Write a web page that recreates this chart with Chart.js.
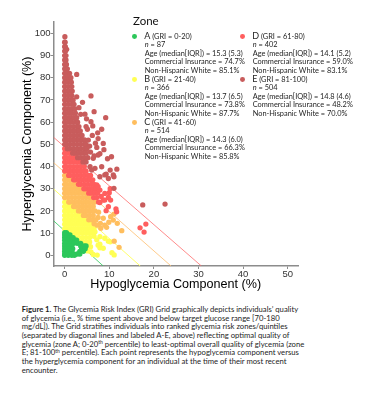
<!DOCTYPE html>
<html><head><meta charset="utf-8">
<script src="https://cdn.jsdelivr.net/npm/chart.js@4.4.1/dist/chart.umd.min.js"></script>
<style>
html,body{margin:0;padding:0;background:#fff;overflow:hidden;}
#wrap{position:relative;width:383px;height:397px;overflow:hidden;background:#fff;}
#c{position:absolute;left:0;top:0;}
.t{position:absolute;font-family:Lato,sans-serif;color:#1e1e1e;white-space:nowrap;height:8.6px;line-height:8.6px;font-size:7.4px;}
.hd .big{font-size:9px;}
.dot{position:absolute;width:4.8px;height:4.8px;border-radius:50%;}
#zoneTitle{position:absolute;left:133px;top:13px;font-family:Lato,sans-serif;font-size:11.5px;line-height:16px;color:#111;}
#caption{position:absolute;left:21.7px;top:304.9px;font-family:Lato,sans-serif;font-size:7.7px;line-height:8.7px;color:#1e1e1e;white-space:nowrap;}
#caption sup{font-size:5px;line-height:0;vertical-align:0;position:relative;top:-2.6px;}
</style></head>
<body><div id="wrap"><canvas id="c" width="383" height="298"></canvas><div id="zoneTitle">Zone</div><div id="legend"></div><div id="caption"></div></div>
<script>
// ---- data ----
const zoneLetters = ['A','B','C','D','E'];
const zoneRanges = ['0-20','21-40','41-60','61-80','81-100'];
const zoneN = [87,366,514,402,504];
const zoneAge = ['15.3 (5.3)','13.7 (6.5)','14.3 (6.0)','14.1 (5.2)','14.8 (4.6)'];
const zoneInsurance = ['74.7%','73.8%','66.3%','59.0%','48.2%'];
const zoneNHW = ['85.1%','87.7%','85.8%','83.1%','70.0%'];
const xTicks = [0,10,20,30,40,50];
const yTicks = [0,10,20,30,40,50,60,70,80,90,100];
const xTitle = 'Hypoglycemia Component (%)';
const yTitle = 'Hyperglycemia Component (%)';

// [hypoglycemia, hyperglycemia] per individual
const zoneA = [
[0,10.2],[0.4,10.2],[0,9.2],[0.8,9.2],[1.2,9.2],[0,8],[0.4,8],[1.2,8],[1.9,8],
[0,6.8],[0.8,6.8],[1.6,6.8],[2.4,6.8],[2.7,6.8],[0,5.4],[0.4,5.4],[1.2,5.4],[2.0,5.4],[2.8,5.4],[3.6,5.4],
[0,4.2],[0.8,4.2],[1.6,4.2],[3.6,4.2],[4.4,4.2],[4.8,4.2],[0,3.0],[0.4,3.0],[1.2,3.0],[1.8,3.0],[3.8,3.0],[4.6,3.0],
[0,1.8],[0.8,1.8],[1.6,1.8],[3.4,1.8],[4.2,1.8],[0,0.6],[0.4,0.6],[1.2,0.6],[2.0,0.6],[2.8,0.6],[3.4,0.6],
[0,0],[0.8,0],[1.6,0],[2.2,0]
];
const zoneB = [
[0,24],[0.5,24],[0,22],[0.8,22],[1.5,22],[0,20],[0.4,20],[1.2,20],[2.0,20],[2.6,20],
[0,18],[0.8,18],[1.6,18],[2.4,18],[3.2,18],[3.7,18],
[0,16],[0.4,16],[1.2,16],[2.0,16],[2.8,16],[3.6,16],[4.4,16],[4.9,16],
[0,14],[0.8,14],[1.6,14],[2.4,14],[3.2,14],[4.0,14],[4.8,14],[5.6,14],[6.0,14],
[0,12],[0.4,12],[1.2,12],[2.0,12],[2.8,12],[3.6,12],[4.4,12],[5.2,12],[6.0,12],[6.6,12],
[0.8,10],[1.6,10],[2.4,10],[3.2,10],[4.0,10],[4.8,10],[5.6,10],[6.2,10],
[1.6,8],[2.4,8],[3.2,8],[4.0,8],[4.8,8],[5.6,8],[2.4,6],[3.2,6],[4.0,6],[4.8,6],[5.6,6],
[4.0,4],[4.8,4],[5.4,4],[5.1,2],
[5.8,3.9],[6.4,0.4],[7.3,0.1],[7.9,5.0],[7.9,3.4],[9.8,6.4],[10.6,1.2],[11.1,0.2],[6.8,10.6],
[7.9,8.4],[9.0,7.7],[10.2,6.1],[7.5,4.6],[8.65,3.2],[7.2,7.0],[6.6,8.6],[5.9,1.6]
];
const zoneC = [
[0,36],[0.5,36],[0,34],[0.8,34],[1.5,34],[0,32],[0.4,32],[1.2,32],[2.0,32],[2.6,32],
[0,30],[0.8,30],[1.6,30],[2.4,30],[3.2,30],[3.8,30],
[0,28],[0.4,28],[1.2,28],[2.0,28],[2.8,28],[3.6,28],[4.4,28],[4.9,28],
[0,26],[0.8,26],[1.6,26],[2.4,26],[3.2,26],[4.0,26],[4.8,26],[5.6,26],[6.0,26],
[0.9,24],[1.2,24],[2.0,24],[2.8,24],[3.6,24],[4.4,24],[5.2,24],[6.0,24],[6.8,24],
[2.0,22],[2.4,22],[3.2,22],[4.0,22],[4.8,22],[5.6,22],[6.4,22],
[3.1,20],[3.6,20],[4.4,20],[5.2,20],[6.0,20],[6.8,20],
[4.2,18],[4.8,18],[5.6,18],[6.4,18],[5.4,16],[6.0,16],[6.8,16],
[8.65,16.7],[11.8,14.4],[12.8,11.1],[9.4,12.6],[8.1,12.2],[10.3,17.4],[11.05,18.6],[7.0,15.9],
[7.5,17.1],[6.6,14.2],[11.1,6.4],[12.2,3.6],[9.0,13.6],[9.9,14.9],[10.9,15.9],[7.6,19.4],[8.0,14.4],[7.3,13.6]
];
const zoneD = [
[0,48],[0.4,48],[0,46],[0.8,46],[1.4,46],[0,44],[0.4,44],[1.2,44],[2.0,44],[2.5,44],
[0,42],[0.8,42],[1.6,42],[2.4,42],[3.2,42],[3.7,42],
[0,40],[0.4,40],[1.2,40],[2.0,40],[2.8,40],[3.6,40],[4.4,40],
[0,38],[0.8,38],[1.6,38],[2.4,38],[3.2,38],[4.0,38],[4.8,38],
[0.9,36],[1.2,36],[2.0,36],[2.8,36],[3.6,36],[4.4,36],[5.2,36],[5.8,36],
[2.0,34],[2.4,34],[3.2,34],[4.0,34],[4.8,34],[5.6,34],[6.3,34],
[3.1,32],[3.6,32],[4.4,32],[5.2,32],[6.0,32],[6.6,32],
[4.3,30],[4.8,30],[5.6,30],[6.4,30],[7.0,30],[5.4,28],[6.0,28],[6.8,28],[7.4,28],[6.5,26],[7.2,26],
[7.9,29.4],[10.0,28.2],[9.8,26.1],[10.3,24.9],[7.9,23.8],[11.5,20.9],[11.65,19.6],[9.3,20.1],
[16.9,12.4],[18.2,14.1],[17.8,10.5],[7.2,31.7],[8.65,24.9],[7.5,30.9],[9.0,27.9],[10.2,30.0],
[9.0,24.9],[9.8,21.9],[8.2,26.5],[7.6,24.0]
];
const zoneE = [
[0.05,98.5],[0,96],[0.1,96],[0,94],[0.15,94],[0,92],[0.2,92],[0.45,92.8],
[0,90],[0.3,90],[0,88],[0.3,88],[0,86],[0.4,86],[0,84],[0.6,84],
[0,82],[0.5,82],[1.1,82],[0,80],[0.7,80],[1.4,80],[0,78],[0.4,78],[1.2,78],[1.5,78],
[0,76],[0.8,76],[1.6,76],[0,74],[0.4,74],[1.2,74],[1.7,74],
[0,72],[0.8,72],[1.6,72],[0,70],[0.4,70],[1.2,70],[1.9,70],
[0,68],[0.8,68],[1.6,68],[2.1,68],[0,66],[0.4,66],[1.2,66],[2.0,66],[2.3,66],
[0,64],[0.8,64],[1.6,64],[2.4,64],[0,62],[0.4,62],[1.2,62],[2.0,62],[2.7,62],
[0,60],[0.8,60],[1.6,60],[2.4,60],[2.9,60],[0,58],[0.4,58],[1.2,58],[2.0,58],[2.8,58],[3.2,58],
[0,56],[0.8,56],[1.6,56],[2.4,56],[3.2,56],[3.5,56],
[0,54],[0.4,54],[1.2,54],[2.0,54],[2.8,54],[3.6,54],[3.9,54],
[0,52],[0.8,52],[1.6,52],[2.4,52],[3.2,52],[4.0,52],[4.5,52],
[0,50],[0.4,50],[1.2,50],[2.0,50],[2.8,50],[3.6,50],[4.4,50],[4.8,50],
[0.6,48],[1.2,48],[2.0,48],[2.8,48],[3.6,48],[4.4,48],[5.0,48],
[1.8,46],[2.4,46],[3.2,46],[4.0,46],[4.8,46],[2.9,44],[3.6,44],[4.4,44],[5.2,44],[4.1,42],[4.8,42],
[2.7,81.5],[5.9,71.8],[2.7,71.4],[4.0,68.9],[4.55,63.6],[6.6,64.7],[9.2,62],[5.9,60.2],[5.1,56.8],
[8.3,56.8],[7.4,55.2],[5.3,51.9],[8.65,50.4],[7.2,48.6],[10.5,44.4],
[4.8,58],[6.2,54],[5.8,46.5],[6.6,44.8],[7.9,45.8],[6.9,50.5],[5.6,49.2],[4.9,61.5],[3.6,63.5],
[3.2,66.5],[6.3,58.3],[7.5,52.6],[8.8,47.6],[9.6,43.5],
[6.4,43.7],[7.5,45.2],[8.3,39.9],[9.0,36.2],[10.2,38.4],[6.05,38.4],[11.7,38.8],[11.05,35.4],
[9.3,36.6],[9.8,34.6],[7.9,35.4],[6.8,39.2],[5.7,39.9],[10.9,36.2],[11.05,30.2],[17.5,22.7],[22.5,23.1]
];

// zone boundary lines (GRI 20 / 40 / 60 / 80), endpoints
const boundary20 = [[-2.5,15.6],[8.7,-4.9]];
const boundary40 = [[-2.5,29.9],[17.0,-4.9]];
const boundary60 = [[-2.5,41.8],[23.9,-4.9]];
const boundary80 = [[-2.5,53.2],[30.7,-4.9]];

// ---- styles ----
const zoneColors = ['rgb(44,199,90)','rgb(255,255,84)','rgb(255,190,94)','rgb(255,94,94)','rgb(200,92,92)'];
const lineColors = ['rgba(45,200,90,0.8)','rgba(255,255,90,0.9)','rgba(255,190,110,0.8)','rgba(255,110,110,0.8)'];
const zoneOrder = [4,5,3,2,1];

const toPts = a => a.map(p => ({x:p[0], y:p[1]}));
const zoneData = [zoneA, zoneB, zoneC, zoneD, zoneE];
const boundaries = [boundary20, boundary40, boundary60, boundary80];

const datasets = [];
zoneData.forEach((d,i) => datasets.push({
  label: zoneLetters[i], data: toPts(d), backgroundColor: zoneColors[i],
  borderWidth: 0, pointRadius: 2.65, pointHoverRadius: 2.65, order: zoneOrder[i]
}));
boundaries.forEach((b,i) => datasets.push({
  label: 'GRI boundary', data: toPts(b), showLine: true, borderColor: lineColors[i],
  borderWidth: 1, pointRadius: 0, fill: false, order: 10
}));

const axisGrey = '#8c8c8c';
new Chart(document.getElementById('c'), {
  type: 'scatter',
  data: { datasets },
  options: {
    responsive: false, animation: false, events: [],
    layout: { padding: { left: 0, right: 85, top: 22, bottom: 2 } },
    plugins: { legend: { display: false }, tooltip: { enabled: false } },
    scales: {
      x: {
        type: 'linear', min: -2.5, max: 52.3,
        afterBuildTicks: s => { s.ticks = xTicks.map(v => ({ value: v })); },
        afterFit: s => { s.height = 30; },
        grid: { drawOnChartArea: false, tickLength: 3, color: axisGrey },
        border: { color: axisGrey, width: 1.5 },
        ticks: { color: '#333', font: { family: 'Liberation Sans', size: 9.5 }, padding: 0, maxRotation: 0, autoSkip: false },
        title: { display: true, text: xTitle, color: '#000', font: { family: 'Liberation Sans', size: 12.6 }, padding: { top: 0, bottom: 4.4 } }
      },
      y: {
        type: 'linear', min: -4.8, max: 105.1,
        afterBuildTicks: s => { s.ticks = yTicks.map(v => ({ value: v })); },
        afterFit: s => { s.width = 53.5; },
        grid: { drawOnChartArea: false, tickLength: 3, color: axisGrey },
        border: { color: axisGrey, width: 1.5 },
        ticks: { color: '#333', font: { family: 'Liberation Sans', size: 9.5 }, padding: 0, autoSkip: false },
        title: { display: true, text: yTitle, color: '#000', font: { family: 'Liberation Sans', size: 12.6 }, padding: { top: 19.9, bottom: 0 } }
      }
    }
  }
});

// ---- legend (HTML text) ----
const legend = document.getElementById('legend');
const rowStep = 8.6, firstRow = 36.7;
zoneLetters.forEach((L, i) => {
  const col = i < 3 ? 0 : 1, blk = i < 3 ? i : i - 3;
  const dotX = col ? 242.7 : 134.3, textX = col ? 252.7 : 144.7;
  const c0 = firstRow + blk * 5 * rowStep;
  const dot = document.createElement('div');
  dot.className = 'dot';
  dot.style.left = (dotX - 2.4) + 'px'; dot.style.top = (c0 - 2.4) + 'px';
  dot.style.background = zoneColors[i];
  legend.appendChild(dot);
  const lines = [
    '<span class="big">' + L + '</span> (GRI = ' + zoneRanges[i] + ')',
    '<i>n</i> = ' + zoneN[i],
    'Age (median[IQR]) = ' + zoneAge[i],
    'Commercial Insurance = ' + zoneInsurance[i],
    'Non-Hispanic White = ' + zoneNHW[i]
  ];
  lines.forEach((h, k) => {
    const d = document.createElement('div');
    d.className = 't' + (k === 0 ? ' hd' : '');
    d.style.left = (textX - (k === 0 ? 0.5 : 0)) + 'px';
    d.style.top = (c0 + k * rowStep - 4.3) + 'px';
    d.innerHTML = h;
    legend.appendChild(d);
  });
});

// ---- caption ----
const captionLines = [
  '<b>Figure 1.</b> The Glycemia Risk Index (GRI) Grid graphically depicts individuals\u2019 quality',
  'of glycemia (i.e., % time spent above and below target glucose range [70-180',
  'mg/dL]). The Grid stratifies individuals into ranked glycemia risk zones/quintiles',
  '(separated by diagonal lines and labeled A-E, above) reflecting optimal quality of',
  'glycemia (zone A; 0-20<sup>th</sup> percentile) to least-optimal overall quality of glycemia (zone',
  'E; 81-100<sup>th</sup> percentile). Each point represents the hypoglycemia component versus',
  'the hyperglycemia component for an individual at the time of their most recent',
  'encounter.'
];
document.getElementById('caption').innerHTML = captionLines.join('<br>');
</script>
</body></html>
